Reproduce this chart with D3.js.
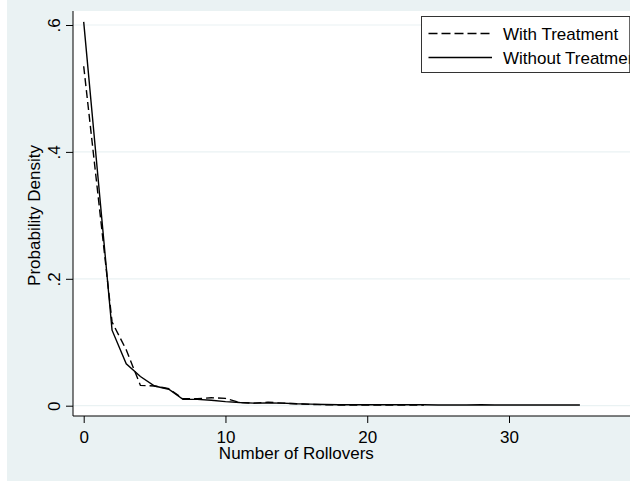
<!DOCTYPE html>
<html lang="en">
<head>
    <meta charset="UTF-8">
    <style>
        html, body { margin:0; padding:0; background:#ffffff; overflow:hidden; }
        svg { display:block; }
        text { font-family:"Liberation Sans", Arial, sans-serif; fill:#000; }
    </style>
    <script src="https://d3js.org/d3.v7.min.js"></script>
</head>
<body>
<svg width="632" height="483"></svg>
<script>
    // rollover counts and the two density series
    var rolloversWith = d3.range(0, 25);
    var withTreatment = [0.535, 0.334, 0.132, 0.088, 0.032, 0.031, 0.027, 0.011, 0.011, 0.0125,
        0.0115, 0.005, 0.004, 0.0055, 0.004, 0.003, 0.002, 0.0015, 0.0012, 0.0012,
        0.0012, 0.0012, 0.0012, 0.0012, 0.0012];

    var rolloversWithout = d3.range(0, 36);
    var withoutTreatment = [0.605, 0.362, 0.119, 0.066, 0.046, 0.031, 0.026, 0.010, 0.010, 0.0085,
        0.0065, 0.005, 0.004, 0.0045, 0.004, 0.003, 0.0025, 0.002, 0.0015, 0.0015,
        0.0015, 0.0015, 0.0015, 0.0015, 0.0015, 0.0012, 0.001, 0.001, 0.0015, 0.001,
        0.001, 0.001, 0.001, 0.001, 0.001, 0.001];

    var xTicks = [0, 10, 20, 30];
    var yTicks = [0, 0.2, 0.4, 0.6];
    var yTickLabels = ["0", ".2", ".4", ".6"];
    var legendLabels = ["With Treatment", "Without Treatment"];

    var svg = d3.select("svg");

    // everything past x=630 was cropped off in the original
    svg.append("defs").append("clipPath").attr("id", "crop")
        .append("rect").attr("x", 0).attr("y", 0).attr("width", 630).attr("height", 483);

    var chart = svg.append("g").attr("clip-path", "url(#crop)");

    chart.append("rect")
        .attr("x", 7).attr("y", 0)
        .attr("width", 640).attr("height", 481)
        .attr("fill", "#eaf2f3");

    var plot = {left: 73, top: 11, right: 640, bottom: 416};

    chart.append("rect")
        .attr("x", plot.left).attr("y", plot.top)
        .attr("width", plot.right - plot.left).attr("height", plot.bottom - plot.top)
        .attr("fill", "#ffffff");

    var x = d3.scaleLinear().domain([0, 30]).range([83.7, 509]);
    var y = d3.scaleLinear().domain([0, 0.6]).range([405.7, 25]);

    // grid
    chart.selectAll(".grid")
        .data(yTicks)
        .enter().append("line")
        .attr("class", "grid")
        .attr("x1", plot.left).attr("x2", plot.right)
        .attr("y1", function(d) { return y(d); })
        .attr("y2", function(d) { return y(d); })
        .attr("stroke", "#eaf2f3")
        .attr("stroke-width", 1.2);

    // y axis
    var yAxis = chart.append("g")
        .attr("transform", "translate(" + plot.left + ",0)")
        .call(d3.axisLeft(y).tickValues(yTicks).tickSize(7).tickFormat(function(d, i) { return yTickLabels[i]; }));
    yAxis.select(".domain").attr("d", "M0," + plot.top + "V" + plot.bottom).attr("stroke", "#000");
    yAxis.selectAll(".tick line").attr("stroke", "#000");
    yAxis.selectAll(".tick text")
        .attr("x", 0).attr("y", 0).attr("dy", null)
        .attr("transform", "translate(-13,0) rotate(-90)")
        .attr("text-anchor", "middle")
        .style("font-size", "17px")
        .style("font-family", "'Liberation Sans', Arial, sans-serif");

    // x axis
    var xAxis = chart.append("g")
        .attr("transform", "translate(0," + plot.bottom + ")")
        .call(d3.axisBottom(x).tickValues(xTicks).tickSize(7).tickFormat(d3.format("d")));
    xAxis.select(".domain").attr("d", "M" + plot.left + ",0H" + plot.right).attr("stroke", "#000");
    xAxis.selectAll(".tick line").attr("stroke", "#000");
    xAxis.selectAll(".tick text")
        .attr("y", 27).attr("dy", null)
        .style("font-size", "17px")
        .style("font-family", "'Liberation Sans', Arial, sans-serif");

    chart.append("text")
        .attr("x", x(15)).attr("y", 459)
        .attr("text-anchor", "middle")
        .style("font-size", "17px")
        .text("Number of Rollovers");

    chart.append("text")
        .attr("transform", "translate(40," + ((plot.top + plot.bottom) / 2 + 2) + ") rotate(-90)")
        .attr("text-anchor", "middle")
        .style("font-size", "17px")
        .text("Probability Density");

    // lines
    var line = d3.line()
        .x(function(d) { return x(d[0]); })
        .y(function(d) { return y(d[1]); });

    chart.append("path")
        .datum(d3.zip(rolloversWith, withTreatment))
        .attr("d", line)
        .attr("fill", "none")
        .attr("stroke", "#000")
        .attr("stroke-width", 1.4)
        .attr("stroke-dasharray", "8,4");

    chart.append("path")
        .datum(d3.zip(rolloversWithout, withoutTreatment))
        .attr("d", line)
        .attr("fill", "none")
        .attr("stroke", "#000")
        .attr("stroke-width", 1.4);

    // legend
    var legend = chart.append("g");
    legend.append("rect")
        .attr("x", 421.5).attr("y", 16.5)
        .attr("width", 300).attr("height", 56)
        .attr("fill", "#fff")
        .attr("stroke", "#333")
        .attr("stroke-width", 1);
    chart.append("line")
        .attr("x1", 630).attr("x2", 630).attr("y1", 16).attr("y2", 73)
        .attr("stroke", "#333").attr("stroke-width", 1.5);

    var items = legend.selectAll(".item")
        .data(legendLabels)
        .enter().append("g")
        .attr("transform", function(d, i) { return "translate(0," + (33.5 + i * 24) + ")"; });
    items.append("line")
        .attr("x1", 428.5).attr("x2", 492)
        .attr("stroke", "#000")
        .attr("stroke-width", 1.4)
        .attr("stroke-dasharray", function(d, i) { return i === 0 ? "9,4" : null; });
    items.append("text")
        .attr("x", 503).attr("y", 6)
        .style("font-size", "17px")
        .text(function(d) { return d; });
</script>
</body>
</html>
